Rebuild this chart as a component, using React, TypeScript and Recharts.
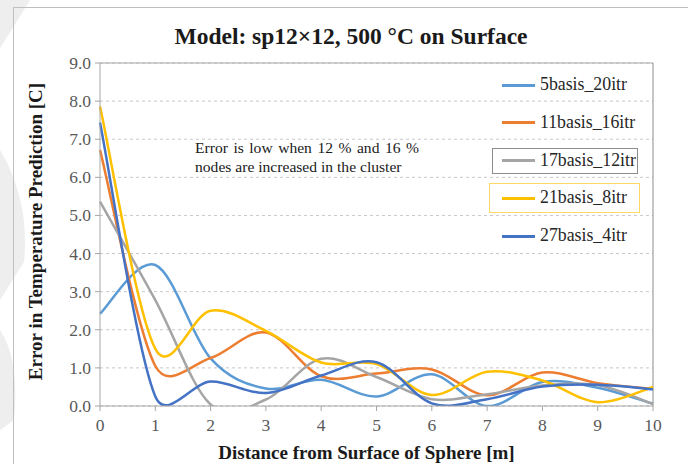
import { LineChart, Line, XAxis, YAxis, CartesianGrid, Legend, ReferenceLine } from "recharts";

// distances along the surface normal [m]
const distance = [0, 1, 2, 3, 4, 5, 6, 7, 8, 9, 10];

// error series
const basis5 = [2.42, 3.7, 1.25, 0.46, 0.69, 0.25, 0.83, 0.0, 0.63, 0.48, 0.06];
const basis11 = [6.72, 1.05, 1.26, 1.93, 0.78, 0.85, 0.96, 0.28, 0.88, 0.6, 0.45];
const basis17 = [5.36, 2.78, 0.04, 0.17, 1.24, 0.76, 0.18, 0.31, 0.54, 0.55, 0.05];
const basis21 = [7.86, 1.5, 2.5, 1.97, 1.14, 1.1, 0.29, 0.9, 0.67, 0.1, 0.5];
const basis27 = [7.44, 0.25, 0.64, 0.34, 0.8, 1.15, 0.07, 0.18, 0.51, 0.56, 0.44];

const yTicks = [0, 1, 2, 3, 4, 5, 6, 7, 8, 9];
const xTicks = [0, 1, 2, 3, 4, 5, 6, 7, 8, 9, 10];

const series = [
  { key: "b5", name: "5basis_20itr", color: "#5B9BD5", values: basis5 },
  { key: "b11", name: "11basis_16itr", color: "#ED7D31", values: basis11 },
  { key: "b17", name: "17basis_12itr", color: "#A5A5A5", values: basis17 },
  { key: "b21", name: "21basis_8itr", color: "#FFC000", values: basis21 },
  { key: "b27", name: "27basis_4itr", color: "#4472C4", values: basis27 },
];

const data = distance.map((d, i) => {
  const row: any = { d };
  series.forEach((s) => (row[s.key] = s.values[i]));
  return row;
});

// Excel-ish smoothed line: catmull-rom beziers, handles capped to half the segment
const excelSmooth = (context: any) => {
  let pts: number[][] = [];
  return {
    areaStart() {},
    areaEnd() {},
    lineStart() {
      pts = [];
    },
    point(x: number, y: number) {
      pts.push([+x, +y]);
    },
    lineEnd() {
      if (!pts.length) return;
      context.moveTo(pts[0][0], pts[0][1]);
      const dist = (a: number[], b: number[]) => Math.hypot(b[0] - a[0], b[1] - a[1]);
      const handle = (prev: number[], next: number[], segLen: number) => {
        let tx = (next[0] - prev[0]) / 6;
        let ty = (next[1] - prev[1]) / 6;
        const len = Math.hypot(tx, ty);
        if (len > segLen / 2 && len > 0) {
          const k = segLen / 2 / len;
          tx *= k;
          ty *= k;
        }
        return [tx, ty];
      };
      for (let i = 0; i < pts.length - 1; i++) {
        const p0 = pts[i - 1] || pts[i];
        const p1 = pts[i];
        const p2 = pts[i + 1];
        const p3 = pts[i + 2] || p2;
        const seg = dist(p1, p2);
        const h1 = handle(p0, p2, seg);
        const h2 = handle(p1, p3, seg);
        context.bezierCurveTo(p1[0] + h1[0], p1[1] + h1[1], p2[0] - h2[0], p2[1] - h2[1], p2[0], p2[1]);
      }
    },
  };
};

const serif = '"Times New Roman", "Liberation Serif", Tinos, serif';

const XTick = ({ x, y, payload }: any) => (
  <text x={x} y={y + 18} textAnchor="middle" style={{ fontFamily: serif, fontSize: 17.5 }} fill="#595959">
    {payload.value}
  </text>
);

const YTick = ({ x, y, payload }: any) => (
  <text x={x - 2} y={y + 6} textAnchor="end" style={{ fontFamily: serif, fontSize: 17.5 }} fill="#595959">
    {Number(payload.value).toFixed(1)}
  </text>
);

const LegendBox = () => (
  <div style={{ position: "relative", width: 160, height: 190 }}>
    {series.map((s, i) => {
      const cy = 15 + i * 37.8;
      return (
        <div key={s.key}>
          {i === 2 && (
            <div style={{ position: "absolute", left: 4, top: cy - 13, width: 146, height: 26, border: "1px solid #8c8c8c", boxSizing: "border-box" }} />
          )}
          {i === 3 && (
            <div style={{ position: "absolute", left: 1, top: cy - 15, width: 151, height: 30, border: "1px solid #FFD966", boxSizing: "border-box" }} />
          )}
          <span style={{ position: "absolute", left: 14, top: cy - 1.5, width: 33, height: 3, background: s.color }} />
          <span
            style={{
              position: "absolute",
              left: 52,
              top: cy - 12,
              fontFamily: serif,
              fontSize: 17.8,
              lineHeight: "22px",
              color: "#262626",
              whiteSpace: "nowrap",
            }}
          >
            {s.name}
          </span>
        </div>
      );
    })}
  </div>
);

export default function App() {
  return (
    <div style={{ position: "absolute", left: 0, top: 0, width: 688, height: 464, background: "#fff", overflow: "hidden", fontFamily: serif }}>
      <svg width={688} height={464} style={{ position: "absolute", left: 0, top: 0 }}>
        <path d="M0 0 L30 0 Q14 26 0 48 Z" fill="#eeeeee" />
        <path d="M0 150 Q30 200 24 262 L0 300 Z" fill="#eeeeee" />
        <path d="M0 330 Q20 360 14 420 L0 430 Z" fill="#eeeeee" />
      </svg>
      <div
        style={{
          position: "absolute",
          left: 13,
          top: 7,
          width: 700,
          height: 480,
          borderTop: "1px solid #bfbfbf",
          borderLeft: "1px solid #bfbfbf",
        }}
      />
      <div
        style={{
          position: "absolute",
          left: 0,
          top: 21,
          width: 702,
          textAlign: "center",
          fontFamily: serif,
          fontWeight: "bold",
          fontSize: 23.5,
          lineHeight: "30px",
          color: "#1a1a1a",
        }}
      >
        Model: sp12×12, 500 °C on Surface
      </div>
      <div style={{ position: "absolute", left: 0, top: 0 }}>
        <LineChart width={688} height={464} data={data} margin={{ top: 63, right: 35, bottom: 0, left: 40 }}>
          <CartesianGrid vertical={false} stroke="#c8c8c8" strokeDasharray="3 3" />
          <XAxis
            dataKey="d"
            type="number"
            domain={[0, 10]}
            ticks={xTicks}
            height={58}
            stroke="#a6a6a6"
            tickSize={5}
            tick={<XTick />}
            label={{
              value: "Distance from Surface of Sphere [m]",
              position: "insideBottom",
              dx: -10,
              offset: 5,
              style: { fontWeight: "bold", fontSize: 19, fill: "#1a1a1a", fontFamily: serif },
            }}
          />
          <YAxis
            type="number"
            domain={[0, 9]}
            ticks={yTicks}
            allowDataOverflow
            width={60}
            stroke="#a6a6a6"
            tickSize={5}
            tick={<YTick />}
            label={{
              value: "Error in Temperature Prediction [C]",
              angle: -90,
              position: "insideLeft",
              dx: -10,
              dy: -3,
              style: { textAnchor: "middle", fontWeight: "bold", fontSize: 19, fill: "#1a1a1a", fontFamily: serif },
            }}
          />
          <ReferenceLine y={9} stroke="#a6a6a6" />
          <ReferenceLine x={10} stroke="#8c8c8c" />
          {series.map((s) => (
            <Line
              key={s.key}
              dataKey={s.key}
              name={s.name}
              type={excelSmooth as any}
              stroke={s.color}
              strokeWidth={2.5}
              dot={false}
              isAnimationActive={false}
            />
          ))}
          <Legend
            layout="vertical"
            align="center"
            verticalAlign="middle"
            wrapperStyle={{ left: 488, top: 70, width: 160 }}
            content={<LegendBox />}
          />
        </LineChart>
      </div>
      <div
        style={{
          position: "absolute",
          left: 195,
          top: 138,
          width: 224,
          fontFamily: serif,
          fontSize: 15.6,
          lineHeight: "19px",
          color: "#1a1a1a",
        }}
      >
        <div style={{ textAlign: "justify", textAlignLast: "justify" }}>Error is low when 12 % and 16 %</div>
        <div>nodes are increased in the cluster</div>
      </div>
    </div>
  );
}
